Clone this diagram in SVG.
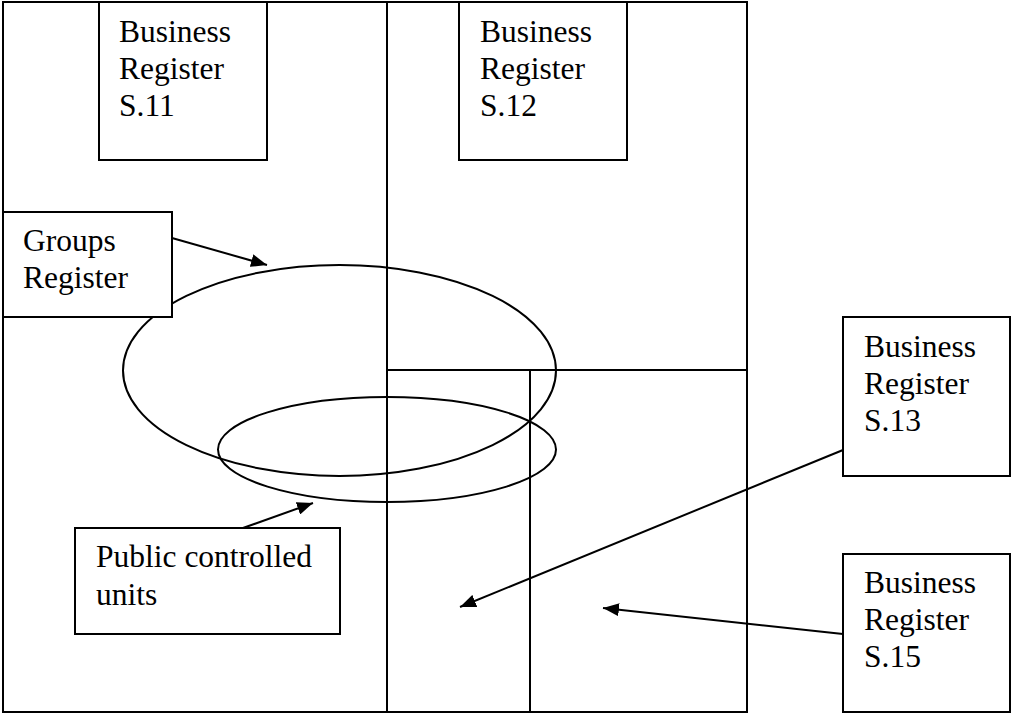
<svg xmlns="http://www.w3.org/2000/svg" width="1012" height="713" viewBox="0 0 1012 713">
  <style>
    .box { fill: #ffffff; stroke: #000000; stroke-width: 2; }
    .frame { fill: none; stroke: #000000; stroke-width: 2; }
    .ring { fill: none; stroke: #000000; stroke-width: 2; }
    .link { fill: none; stroke: #000000; stroke-width: 2; }
    .label { font-family: "Liberation Serif", "Times New Roman", serif; font-size: 31.5px; fill: #000000; }
  </style>
  <defs>
    <marker id="arrow" markerUnits="userSpaceOnUse" markerWidth="17" markerHeight="13" refX="16" refY="6.5" orient="auto">
      <path d="M0,0 L16,6.5 L0,13 z" fill="#000000"/>
    </marker>
  </defs>

  <rect x="0" y="0" width="1012" height="713" fill="#ffffff"/>

  <!-- sector partition -->
  <g id="partition">
    <rect class="frame" x="3" y="2" width="744" height="710"/>
    <line class="frame" x1="387" y1="2" x2="387" y2="712"/>
    <line class="frame" x1="387" y1="370" x2="747" y2="370"/>
    <line class="frame" x1="530" y1="370" x2="530" y2="712"/>
  </g>

  <!-- group and public-control sets -->
  <g id="groups-set">
    <ellipse class="ring" cx="339.5" cy="370.5" rx="216.5" ry="105.5"/>
  </g>
  <g id="public-set">
    <ellipse class="ring" cx="387" cy="449.5" rx="169" ry="52.5"/>
  </g>

  <g id="br-s11">
    <rect class="box" x="99" y="2" width="168" height="158"/>
    <text class="label" x="119" y="42">Business</text>
    <text class="label" x="119" y="79">Register</text>
    <text class="label" x="119" y="116">S.11</text>
  </g>

  <g id="br-s12">
    <rect class="box" x="459" y="2" width="168" height="158"/>
    <text class="label" x="480" y="42">Business</text>
    <text class="label" x="480" y="79">Register</text>
    <text class="label" x="480" y="116">S.12</text>
  </g>

  <g id="groups-register">
    <rect class="box" x="3" y="212" width="169" height="105"/>
    <text class="label" x="23" y="251">Groups</text>
    <text class="label" x="23" y="288">Register</text>
  </g>

  <g id="public-controlled">
    <rect class="box" x="75" y="528" width="265" height="106"/>
    <text class="label" x="96" y="567">Public controlled</text>
    <text class="label" x="96" y="605">units</text>
  </g>

  <g id="br-s13">
    <rect class="box" x="843" y="317" width="167" height="159"/>
    <text class="label" x="864" y="357">Business</text>
    <text class="label" x="864" y="394">Register</text>
    <text class="label" x="864" y="431">S.13</text>
  </g>

  <g id="br-s15">
    <rect class="box" x="843" y="554" width="167" height="158"/>
    <text class="label" x="864" y="593">Business</text>
    <text class="label" x="864" y="630">Register</text>
    <text class="label" x="864" y="667">S.15</text>
  </g>

  <!-- connectors -->
  <g id="connectors">
    <line class="link" x1="172" y1="238" x2="267" y2="265" marker-end="url(#arrow)"/>
    <line class="link" x1="243" y1="528" x2="313" y2="503" marker-end="url(#arrow)"/>
    <line class="link" x1="843" y1="450" x2="460" y2="607" marker-end="url(#arrow)"/>
    <line class="link" x1="843" y1="634" x2="603" y2="608" marker-end="url(#arrow)"/>
  </g>
</svg>
